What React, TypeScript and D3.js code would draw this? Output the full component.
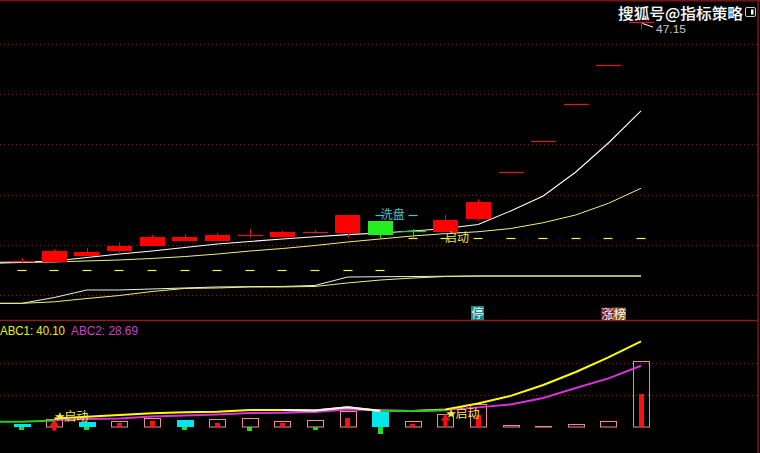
import React from "react";
import * as d3 from "d3";

// ---------- main panel: candles (index 0..19) ----------
const candleOpen = [23.38, 23.32, 23.91, 24.41, 24.91, 25.38, 25.41, 25.96, 25.81, 26.22, 26.2, 27.37, 26.42, 26.27, 27.57, 32.22, 35.37, 38.99, 42.91, 47.15];
const candleHigh = [23.7, 24.55, 24.68, 25.21, 25.98, 26.08, 26.2, 26.57, 26.37, 26.47, 27.97, 27.37, 26.57, 27.97, 29.53, 32.22, 35.37, 38.99, 42.91, 47.15];
const candleLow = [23.2, 23.32, 23.91, 24.08, 24.91, 25.38, 25.41, 25.71, 25.81, 26.08, 25.7, 25.61, 25.61, 26.27, 27.4, 32.22, 35.37, 38.99, 42.91, 46.45];
const candleClose = [23.42, 24.38, 24.28, 24.88, 25.78, 25.78, 25.98, 26.0, 26.27, 26.26, 27.97, 26.0, 26.38, 27.47, 29.26, 32.22, 35.37, 38.99, 42.91, 47.15];

// moving-average style lines, index -1..19 (first value belongs to the bar left of the view)
const maFast = [23.24, 23.29, 23.39, 23.74, 24.08, 24.38, 24.73, 25.08, 25.33, 25.58, 25.8, 26.01, 26.18, 26.37, 26.62, 27.02, 28.37, 29.86, 32.25, 35.14, 38.33];
const maSlow = [23.14, 23.24, 23.29, 23.39, 23.49, 23.64, 23.83, 24.08, 24.38, 24.63, 24.93, 25.28, 25.58, 25.88, 26.11, 26.3, 26.62, 27.2, 27.97, 29.13, 30.63];
const maLongA = [19.17, 19.17, 19.75, 20.5, 20.5, 20.6, 20.7, 20.8, 20.83, 20.85, 20.95, 21.79, 21.82, 21.84, 21.87, 21.89, 21.89, 21.89, 21.89, 21.89, 21.89];
const maLongB = [19.17, 19.17, 19.32, 19.65, 19.95, 20.35, 20.65, 20.7, 20.8, 20.8, 20.85, 21.2, 21.49, 21.69, 21.84, 21.89, 21.89, 21.89, 21.89, 21.89, 21.89];

// yellow support dashes, index 0..19
const supportLevel = [22.46, 22.46, 22.46, 22.46, 22.46, 22.46, 22.46, 22.46, 22.46, 22.46, 22.46, 22.46, 25.65, 25.65, 25.65, 25.65, 25.65, 25.65, 25.65, 25.65];
const washIdx = [11, 12];
const washLevel = [27.97, 27.97];
const priceGrid = [20, 25, 30, 35, 40, 45];
const highLabel = "47.15";

// ---------- sub panel ----------
const volume = [1.4, 3.9, 2.3, 3.0, 4.2, 3.1, 3.9, 4.4, 3.0, 3.5, 7.4, 7.4, 2.7, 6.0, 11.0, 0.8, 0.3, 1.3, 3.0, 30.8];
const volDown = [1, 0, 1, 0, 0, 1, 0, 0, 0, 0, 0, 1, 0, 0, 0, 0, 0, 0, 0, 0];
const innerBar = [-1.4, 0, -1.5, 2.0, 2.7, -1.5, 2.0, -2.0, 1.7, -1.5, 4.2, -3.4, 1.3, 0, 5.5, 0, 0, 0, 0, 15.3];
const arrowIdx = [1, 13];
const arrowLow = [-1.7, 0];
const arrowHigh = [3.8, 6.2];
// index -1..19
const abc1 = [null, null, 4.0, 4.8, 5.6, 6.4, 6.9, 7.2, 8.0, 8.0, 7.7, 9.2, 7.5, 7.5, 8.2, 11.0, 14.6, 19.7, 25.8, 32.6, 40.1];
const abc2 = [null, null, 3.3, 3.8, 4.0, 4.9, 5.4, 5.9, 6.6, 6.7, 7.0, 8.2, 8.0, 7.5, 8.0, 9.2, 10.6, 13.6, 18.3, 22.8, 28.69];
const abcWash = [2.5, 2.5, 3.0, null, null, null, null, null, null, null, null, null, 7.5, 7.5, 7.8, null, null, null, null, null, null];
const abcWhite = [null, null, null, null, null, null, null, null, null, 8.0, 7.7, 9.2, 7.6, null, null, null, null, null, null, null, null];
const startIdx = [1, 13];
const startLevel = [2.6, 4.0];
const subGrid = [15, 30];
const legendABC1 = "ABC1: 40.10";
const legendABC2 = "ABC2: 28.69";

export default function App() {
  const W = 760;
  const H = 453;
  const x = d3.scaleLinear().domain([0, 19]).range([21.7, 641]);
  const yP = d3.scaleLinear().domain([20, 45]).range([295, 44]);
  const yB = d3.scaleLinear().domain([0, 30]).range([427, 363]);
  const bodyW = 25;

  const mk = (ys: (v: number) => number, vals: (number | null)[]) =>
    d3
      .line<number | null>()
      .defined((v) => v !== null && v !== undefined)
      .x((_, k) => x(k - 1))
      .y((v) => ys(v as number))(vals) || "";

  const cjk = "'Noto Sans CJK SC', 'Noto Sans', sans-serif";

  return (
    <svg
      width={W}
      height={H}
      style={{ position: "fixed", left: 0, top: 0, display: "block", background: "#000" }}
      fontFamily="'Liberation Sans', Arial, sans-serif"
    >
      <defs>
        <clipPath id="mainClip">
          <rect x={0} y={2} width={757} height={318} />
        </clipPath>
        <clipPath id="subClip">
          <rect x={0} y={322} width={757} height={131} />
        </clipPath>
      </defs>
      <rect width={W} height={H} fill="#000" />

      {/* grids */}
      {priceGrid.map((p) => (
        <line key={"pg" + p} x1={0} x2={757} y1={Math.round(yP(p)) + 0.5} y2={Math.round(yP(p)) + 0.5} stroke="#7a2020" strokeDasharray="1 3" />
      ))}
      {subGrid.map((p) => (
        <line key={"sg" + p} x1={0} x2={757} y1={Math.round(yB(p)) + 0.5} y2={Math.round(yB(p)) + 0.5} stroke="#7a2020" strokeDasharray="1 3" />
      ))}

      {/* frame */}
      <rect x={0} y={0} width={W} height={1.6} fill="#6e1414" />
      <line x1={0} x2={758} y1={320.5} y2={320.5} stroke="#8a1c1c" strokeWidth={1.4} />
      <line x1={758} x2={758} y1={0} y2={H} stroke="#7e1818" strokeWidth={1.5} />

      <g clipPath="url(#mainClip)">
        {/* long lines */}
        <path d={mk(yP, maLongA)} fill="none" stroke="#e2f6f6" strokeWidth={1} />
        <path d={mk(yP, maLongB)} fill="none" stroke="#f0f070" strokeWidth={1} />
        {/* support dashes */}
        {supportLevel.map((p, i) => (
          <line key={"sd" + i} x1={Math.round(x(i)) - 4.5} x2={Math.round(x(i)) + 4.5} y1={Math.round(yP(p)) + 0.5} y2={Math.round(yP(p)) + 0.5} stroke="#f0f060" strokeWidth={1.2} />
        ))}
        {/* MA lines */}
        <path d={mk(yP, maSlow)} fill="none" stroke="#f0f080" strokeWidth={1} />
        <path d={mk(yP, maFast)} fill="none" stroke="#ffffff" strokeWidth={1.1} />

        {/* candles */}
        {candleOpen.map((o, i) => {
          const c = candleClose[i];
          const up = c >= o;
          const cx = Math.round(x(i)) + 0.5;
          const yTop = yP(Math.max(o, c));
          const yBot = yP(Math.min(o, c));
          const flat = yBot - yTop < 1.5;
          const col = up ? "#ff0000" : "#22ee22";
          const lineCol = up ? "#d21e1e" : "#2acc2a";
          return (
            <g key={"c" + i}>
              <line x1={cx} x2={cx} y1={yP(candleHigh[i])} y2={yP(candleLow[i])} stroke={flat ? lineCol : col} strokeWidth={1} />
              {flat ? (
                <line x1={cx - bodyW / 2} x2={cx + bodyW / 2} y1={Math.round(yTop) + 0.5} y2={Math.round(yTop) + 0.5} stroke={lineCol} strokeWidth={1.3} />
              ) : (
                <rect x={Math.round(x(i) - bodyW / 2)} y={Math.round(yTop)} width={bodyW} height={Math.max(1, Math.round(yBot) - Math.round(yTop))} fill={col} />
              )}
            </g>
          );
        })}

        {/* wash marker */}
        {washIdx.map((i, k) => (
          <line key={"wd" + i} x1={Math.round(x(i)) - 4.5} x2={Math.round(x(i)) + 4.5} y1={Math.round(yP(washLevel[k])) + 0.5} y2={Math.round(yP(washLevel[k])) + 0.5} stroke="#4ec3d0" strokeWidth={1.2} />
        ))}
        <text x={x(washIdx[0]) + 0.5} y={yP(washLevel[0]) + 0.5} dominantBaseline="middle" fontSize={12} fontFamily={cjk} fill="#4ec3d0">
          洗盘
        </text>
        <text x={x(13) - 0.5} y={yP(supportLevel[13]) + 0.5} dominantBaseline="middle" fontSize={12} fontFamily={cjk} fill="#f0e050">
          启动
        </text>

        {/* high label */}
        <line x1={642.5} y1={23.5} x2={653} y2={27} stroke="#ffffff" strokeWidth={1} />
        <text x={656} y={32.5} fontSize={11} fill="#c8c8c8" textLength={30} lengthAdjust="spacingAndGlyphs">
          {highLabel}
        </text>

        {/* signal badges */}
        <rect x={Math.round(x(14)) - 7} y={306} width={13} height={14} fill="#1c8a8c" />
        <text x={Math.round(x(14)) - 0.5} y={317.5} textAnchor="middle" fontSize={12} fontFamily={cjk} fill="#eaffff">
          停
        </text>
        <rect x={Math.round(x(18)) - 7} y={307.5} width={12} height={13} fill="#7a1010" />
        <rect x={Math.round(x(18)) + 5} y={307.5} width={13} height={13} fill="#8c5a24" />
        <text x={Math.round(x(18)) - 6.5} y={318.5} fontSize={12} fontFamily={cjk} fill="#ffffff" textLength={24.5} lengthAdjust="spacingAndGlyphs">
          涨榜
        </text>
      </g>

      {/* watermark + icon */}
      <text x={618} y={18.5} fontSize={15} fontFamily={cjk} fontWeight={500} fill="#ffffff" stroke="#222" strokeWidth={0.6} paintOrder="stroke" textLength={125} lengthAdjust="spacingAndGlyphs">
        搜狐号@指标策略
      </text>
      <rect x={745.5} y={7.5} width={10} height={9} rx={1.5} fill="none" stroke="#cccccc" strokeWidth={1} />
      <rect x={751} y={9.5} width={2.5} height={5} fill="#ffffff" />

      {/* sub panel */}
      <g clipPath="url(#subClip)">
        {volume.map((v, i) => {
          const base = Math.round(yB(0));
          const top = Math.round(yB(v));
          const left = Math.round(x(i) - 8);
          return volDown[i] ? (
            <rect key={"v" + i} x={left} y={top} width={17} height={Math.max(1, base - top)} fill="#00e6ee" />
          ) : (
            <rect key={"v" + i} x={left + 0.5} y={top + 0.5} width={16} height={Math.max(0.5, base - top - 0.5)} fill="none" stroke="#f08c8c" strokeWidth={1} />
          );
        })}
        {innerBar.map((v, i) => {
          if (v === 0) return null;
          const base = Math.round(yB(0));
          const end = Math.round(yB(v));
          return (
            <rect key={"ib" + i} x={Math.round(x(i) - 2.5)} y={Math.min(base, end)} width={5} height={Math.abs(end - base)} fill={v > 0 ? "#ff1010" : "#22dd22"} />
          );
        })}
        {arrowIdx.map((i, k) => {
          const cx = x(i);
          const top = yB(arrowHigh[k]);
          const bot = yB(arrowLow[k]);
          const hh = 7;
          return (
            <g key={"ar" + i} fill="#ff1010">
              <rect x={cx - 2} y={top + hh} width={4} height={bot - top - hh} />
              <path d={`M${cx},${top} L${cx + 4.5},${top + hh} L${cx - 4.5},${top + hh} Z`} />
            </g>
          );
        })}
        <path d={mk(yB, abc2)} fill="none" stroke="#d832d8" strokeWidth={2} />
        <path d={mk(yB, abc1)} fill="none" stroke="#ffff00" strokeWidth={2} />
        <path d={mk(yB, abcWhite)} fill="none" stroke="#f4f0f4" strokeWidth={2} />
        <path d={mk(yB, abcWash)} fill="none" stroke="#22cc22" strokeWidth={2} />
        {startIdx.map((i, k) => (
          <g key={"st" + i} fontFamily={cjk} fill="#f6e84a">
            <text x={x(i) + 0.5} y={yB(startLevel[k]) - 1} fontSize={10}>
              ★
            </text>
            <text x={x(i) + 10} y={yB(startLevel[k])} fontSize={12}>
              启动
            </text>
          </g>
        ))}
      </g>

      {/* legend */}
      <text x={0} y={334.5} fontSize={12.5} fill="#f0f000" textLength={65} lengthAdjust="spacingAndGlyphs">
        {legendABC1}
      </text>
      <text x={71} y={334.5} fontSize={12.5} fill="#cc44cc" textLength={67} lengthAdjust="spacingAndGlyphs">
        {legendABC2}
      </text>
    </svg>
  );
}
